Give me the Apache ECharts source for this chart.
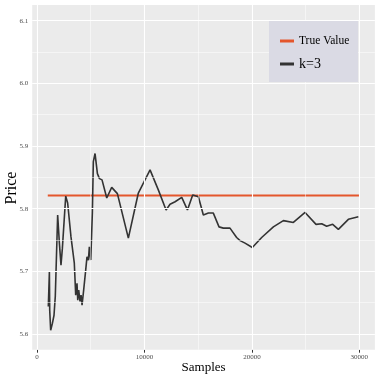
<!DOCTYPE html>
<html style="height: 100%">
<head>
<meta charset="utf-8">
<script src="https://cdn.jsdelivr.net/npm/echarts@6/dist/echarts.min.js"></script>
</head>
<body style="height: 100%; margin: 0; background: #fff">
<div id="container" style="width: 380px; height: 379px"></div>
<script type="text/javascript">

// samples vs estimated price (k=3)
var samples = [1050, 1150, 1180, 1270, 1430, 1580, 1700, 1920, 2080, 2230, 2360, 2450, 2670, 2850, 2950, 3160, 3290, 3470, 3600, 3720, 3790, 3880, 4000, 4100, 4190, 4340, 4530, 4650, 4780, 4870, 5000, 5150, 5240, 5400, 5620, 5810, 6050, 6490, 6950, 7480, 8500, 9430, 10520, 11290, 12010, 12380, 12850, 13470, 14000, 14490, 15020, 15480, 15950, 16410, 16940, 17340, 17960, 18580, 18900, 19360, 20040, 20910, 22000, 22930, 23860, 24950, 25970, 26500, 26960, 27520, 28050, 28980, 29910];
var estimate = [5.644, 5.699, 5.638, 5.606, 5.617, 5.630, 5.660, 5.790, 5.745, 5.710, 5.737, 5.735, 5.820, 5.809, 5.809, 5.755, 5.757, 5.713, 5.662, 5.681, 5.654, 5.670, 5.652, 5.662, 5.646, 5.670, 5.702, 5.723, 5.718, 5.739, 5.718, 5.793, 5.875, 5.888, 5.856, 5.848, 5.846, 5.817, 5.834, 5.824, 5.753, 5.825, 5.862, 5.830, 5.798, 5.807, 5.811, 5.818, 5.798, 5.822, 5.819, 5.790, 5.793, 5.793, 5.771, 5.769, 5.769, 5.754, 5.749, 5.745, 5.738, 5.754, 5.771, 5.781, 5.778, 5.794, 5.775, 5.776, 5.772, 5.775, 5.767, 5.783, 5.787];

var trueX = [1000, 30000];
var trueY = [5.821, 5.821];

var xTicks = [0, 10000, 20000, 30000];
var xMinor = [5000, 15000, 25000];
var yTicks = [5.6, 5.7, 5.8, 5.9, 6.0, 6.1];
var yMinor = [5.65, 5.75, 5.85, 5.95, 6.05];

function pairs(xs, ys) {
    var out = [];
    for (var i = 0; i < xs.length; i++) out.push([xs[i], ys[i]]);
    return out;
}

var serif = "'Liberation Serif', 'DejaVu Serif', serif";

var gridLines = [];
xTicks.forEach(function (v) { gridLines.push({xAxis: v, lineStyle: {width: 1.1}}); });
xMinor.forEach(function (v) { gridLines.push({xAxis: v, lineStyle: {width: 0.5}}); });
yTicks.forEach(function (v) { gridLines.push({yAxis: v, lineStyle: {width: 1.1}}); });
yMinor.forEach(function (v) { gridLines.push({yAxis: v, lineStyle: {width: 0.5}}); });

var dom = document.getElementById("container");
var myChart = echarts.init(dom);

var option = {
    animation: false,
    grid: {
        left: 32.2, right: 5.1, top: 5, bottom: 29.3,
        outerBoundsMode: 'none',
        containLabel: false,
        show: true, backgroundColor: '#ebebeb', borderWidth: 0
    },
    graphic: [
        {
            type: 'rect', left: 269, top: 21, z: 10,
            shape: {width: 89, height: 61},
            style: {fill: '#dadae4'}
        },
        {
            // y axis title
            type: 'text', x: 12, y: 188, rotation: Math.PI / 2,
            style: {
                text: 'Price', fontFamily: serif, fontSize: 16, fill: '#000',
                align: 'center', verticalAlign: 'middle'
            }
        }
    ],
    legend: {
        orient: 'vertical',
        left: 280, top: 35,
        padding: 0,
        itemGap: 10,
        itemWidth: 14, itemHeight: 3,
        icon: 'rect',
        z: 20,
        data: [
            {name: 'True Value', textStyle: {fontSize: 11.5}},
            {name: 'k=3', textStyle: {fontSize: 14}}
        ],
        textStyle: {fontFamily: serif, color: '#000'}
    },
    xAxis: {
        type: 'value',
        min: -450, max: 31450,
        name: 'Samples',
        nameLocation: 'middle',
        nameGap: 11,
        nameMoveOverlap: false,
        nameTextStyle: {fontFamily: serif, fontSize: 13, color: '#000'},
        axisLine: {show: false},
        axisTick: {show: true, length: 3, customValues: xTicks, lineStyle: {color: '#333'}},
        axisLabel: {
            customValues: xTicks, fontFamily: serif, fontSize: 7, color: '#4d4d4d', margin: 4,
            formatter: function (v) { return String(v); }
        },
        splitLine: {show: false}
    },
    yAxis: {
        type: 'value',
        min: 5.575, max: 6.125,
        axisLine: {show: false},
        axisTick: {show: true, length: 3, customValues: yTicks, lineStyle: {color: '#333'}},
        axisLabel: {
            customValues: yTicks, fontFamily: serif, fontSize: 7, color: '#4d4d4d', margin: 4,
            formatter: function (v) { return v.toFixed(1); }
        },
        splitLine: {show: false}
    },
    series: [
        {
            name: 'grid',
            type: 'line',
            data: [],
            silent: true,
            z: 1,
            markLine: {
                silent: true,
                symbol: ['none', 'none'],
                label: {show: false},
                lineStyle: {color: '#ffffff', type: 'solid'},
                data: gridLines
            }
        },
        {
            name: 'True Value',
            type: 'line',
            data: pairs(trueX, trueY),
            showSymbol: false,
            color: '#e4562c',
            lineStyle: {width: 2},
            z: 3
        },
        {
            name: 'k=3',
            type: 'line',
            data: pairs(samples, estimate),
            showSymbol: false,
            color: '#333333',
            lineStyle: {width: 1.6},
            z: 4
        }
    ]
};

myChart.setOption(option);

</script>
</body>
</html>
